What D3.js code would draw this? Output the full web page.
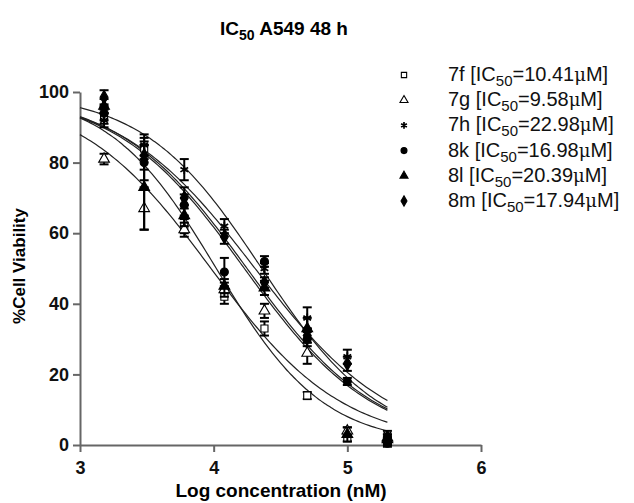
<!DOCTYPE html>
<html>
<head>
<meta charset="utf-8">
<script src="https://cdn.jsdelivr.net/npm/d3@7"></script>
<style>
  body { margin: 0; background: #fff; }
  text { font-family: "Liberation Sans", Arial, sans-serif; }
</style>
</head>
<body>
<div id="chart"></div>
<script>
// log concentration (nM) of each dose
const logConc = [3.18, 3.48, 3.78, 4.08, 4.38, 4.7, 5.0, 5.3];

const compounds = ["7f", "7g", "7h", "8k", "8l", "8m"];
const ic50Text = ["10.41", "9.58", "22.98", "16.98", "20.39", "17.94"];

// mean % cell viability per compound
const v7f = [93, 84, 62, 42, 33, 14, 2, 1];
const v7g = [81, 67, 61, 44, 38, 26, 4, 2];
const v7h = [92, 85, 78, 62, 50, 36, 25, 3];
const v8k = [94, 80, 68, 49, 52, 30, 18, 0.5];
const v8l = [96, 73, 65, 45, 44.5, 33, 3, 1.5];
const v8m = [98.5, 82, 70, 59, 46, 31, 23, 2];

// error (SD)
const e7f = [2, 3, 2, 2, 2, 1, 1, 1];
const e7g = [1.5, 6, 2, 2, 2, 3, 1, 1];
const e7h = [2, 3, 3, 2, 1.5, 3, 2, 1];
const e8k = [2, 5, 3, 4, 1.5, 2, 1, 1];
const e8l = [2, 12, 3, 2, 2, 3, 2, 1];
const e8m = [2, 4, 3, 2, 1.5, 2, 2, 1];

// fitted curve parameters (log IC50, hill slope)
const logIC50 = [4.02, 3.98, 4.36, 4.23, 4.31, 4.25];
const hillSlope = [1.08, 0.88, 0.98, 0.9, 0.85, 0.9];

const values = [v7f, v7g, v7h, v8k, v8l, v8m];
const errors = [e7f, e7g, e7h, e8k, e8l, e8m];

const width = 634, height = 503;
const svg = d3.select("#chart").append("svg")
  .attr("width", width).attr("height", height);

const x = d3.scaleLinear().domain([3, 6]).range([80, 481]);
const y = d3.scaleLinear().domain([0, 100]).range([445, 92]);

// title
const title = svg.append("text")
  .attr("x", 284).attr("y", 35)
  .attr("text-anchor", "middle")
  .style("font-size", "19px").style("font-weight", "bold");
title.append("tspan").text("IC");
title.append("tspan").attr("dy", 5).style("font-size", "14px").text("50");
title.append("tspan").attr("dy", -5).text(" A549 48 h");

// axes
const xAxis = svg.append("g")
  .attr("transform", `translate(0,${y(0)})`)
  .call(d3.axisBottom(x).tickValues([3, 4, 5, 6]).tickFormat(d3.format("d")).tickSize(7).tickSizeOuter(0));
const yAxis = svg.append("g")
  .attr("transform", `translate(${x(3)},0)`)
  .call(d3.axisLeft(y).tickValues([0, 20, 40, 60, 80, 100]).tickSize(7).tickSizeOuter(0));

[xAxis, yAxis].forEach(g => {
  g.selectAll(".domain, line").attr("stroke", "#666").attr("stroke-width", 2);
  g.selectAll("text")
    .style("font-size", "18px").style("font-weight", "bold")
    .style("font-family", "'Liberation Sans', Arial, sans-serif")
    .attr("fill", "#111");
});
xAxis.selectAll("text").attr("dy", "1.05em");
yAxis.selectAll("text").attr("dx", "-0.05em");

svg.append("text")
  .attr("x", 281).attr("y", 497)
  .attr("text-anchor", "middle")
  .style("font-size", "19px").style("font-weight", "bold")
  .text("Log concentration (nM)");

svg.append("text")
  .attr("transform", "translate(25,266) rotate(-90)")
  .attr("text-anchor", "middle")
  .style("font-size", "17px").style("font-weight", "bold")
  .text("%Cell  Viability");

// fitted curves
const line = d3.line().x(d => x(d[0])).y(d => y(d[1])).curve(d3.curveBasis);
compounds.forEach((c, i) => {
  const pts = d3.range(3, 5.301, 0.02).map(lx =>
    [lx, 100 / (1 + Math.pow(10, (lx - logIC50[i]) * hillSlope[i]))]);
  svg.append("path")
    .datum(pts)
    .attr("d", line)
    .attr("fill", "none")
    .attr("stroke", "#222")
    .attr("stroke-width", 1.2);
});

// markers
const symbolTypes = [d3.symbolSquare, d3.symbolTriangle, d3.symbolAsterisk, d3.symbolCircle, d3.symbolTriangle, d3.symbolDiamond];
const filled = [false, false, false, true, true, true];

function drawSymbol(g, i, px, py, size) {
  g.append("path")
    .attr("transform", `translate(${px},${py})`)
    .attr("d", d3.symbol().type(symbolTypes[i]).size(i === 2 || i === 5 ? size * 1.1 : size))
    .attr("fill", filled[i] ? "#000" : "#fff")
    .attr("stroke", "#000")
    .attr("stroke-width", i === 2 ? 1.7 : 1.1);
}

const marks = svg.append("g");
compounds.forEach((c, i) => {
  values[i].forEach((v, j) => {
    const px = x(logConc[j]);
    const e = errors[i][j];
    const top = y(Math.min(v + e, 100.5)), bot = y(Math.max(v - e, -0.5));
    marks.append("line").attr("x1", px).attr("x2", px).attr("y1", top).attr("y2", bot)
      .attr("stroke", "#000").attr("stroke-width", 2);
    [top, bot].forEach(yy => marks.append("line")
      .attr("x1", px - 4.5).attr("x2", px + 4.5).attr("y1", yy).attr("y2", yy)
      .attr("stroke", "#000").attr("stroke-width", 2));
    drawSymbol(marks, i, px, y(v), 50);
  });
});

// legend
const legend = svg.append("g");
compounds.forEach((c, i) => {
  const ly = 81 + i * 25.2;
  drawSymbol(legend, i, 404, ly - 6, 28);
  const t = legend.append("text").attr("x", 448).attr("y", ly)
    .style("font-size", "20px").attr("fill", "#111");
  t.append("tspan").text(`${c} [IC`);
  t.append("tspan").attr("dy", 5).style("font-size", "15px").text("50");
  t.append("tspan").attr("dy", -5).text(`=${ic50Text[i]}`);
  t.append("tspan").style("font-family", "'DejaVu Serif', serif").style("font-size", "18px").text("\u03bc");
  t.append("tspan").text("M]");
});
</script>
</body>
</html>
